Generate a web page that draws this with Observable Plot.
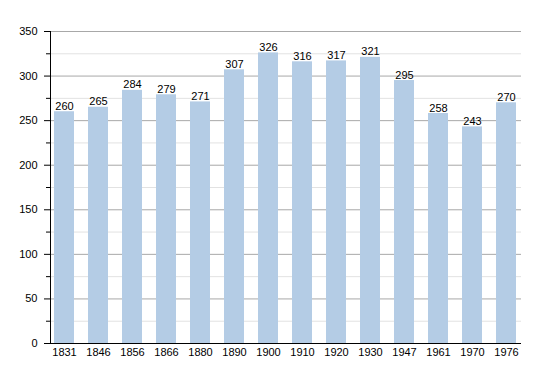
<!DOCTYPE html>
<html>
<head>
<meta charset="utf-8">
<script src="https://cdn.jsdelivr.net/npm/d3@7"></script>
<script src="https://cdn.jsdelivr.net/npm/@observablehq/plot@0.6"></script>
<style>
  html, body { margin: 0; padding: 0; background: #fff; }
  #chart svg { display: block; }
</style>
</head>
<body>
<div id="chart"></div>
<script>
const years = ["1831","1846","1856","1866","1880","1890","1900","1910","1920","1930","1947","1961","1970","1976"];
const population = [260,265,284,279,271,307,326,316,317,321,295,258,243,270];
const majorTicks = [0,50,100,150,200,250,300,350];
const minorTicks = [25,75,125,175,225,275,325];

const data = years.map((y, i) => ({year: y, pop: population[i]}));

const chart = Plot.plot({
  width: 550,
  height: 373,
  marginLeft: 50,
  marginRight: 29,
  marginTop: 31,
  marginBottom: 30,
  style: {fontFamily: "'Liberation Sans', Arial, sans-serif", fontSize: "11px", color: "#000", background: "#fff"},
  x: {type: "band", domain: years, paddingInner: 0.4, paddingOuter: 0.02, label: null},
  y: {domain: [0, 350], label: null},
  marks: [
    Plot.ruleY(minorTicks, {stroke: "#e2e2e2", strokeWidth: 1}),
    Plot.ruleY(majorTicks.filter(d => d > 0), {stroke: "#a8a8a8", strokeWidth: 1}),
    Plot.barY(data, {x: "year", y: "pop", fill: "#b4cce5"}),
    Plot.text(data, {x: "year", y: "pop", text: d => String(d.pop), lineAnchor: "bottom", dy: -2, fill: "#000", fontSize: 11}),
    Plot.axisY(majorTicks, {tickSize: 6, tickPadding: 7, stroke: "#000", fill: "#000", label: null, fontSize: 11}),
    Plot.axisY(minorTicks, {tickSize: 4, text: null, stroke: "#000", label: null}),
    Plot.axisX({tickSize: 0, tickPadding: 5, fill: "#000", label: null, fontSize: 11}),
    Plot.frame({anchor: "left", stroke: "#000"}),
    Plot.ruleY([0], {stroke: "#000", insetLeft: -5})
  ]
});
document.getElementById("chart").appendChild(chart);
</script>
</body>
</html>
